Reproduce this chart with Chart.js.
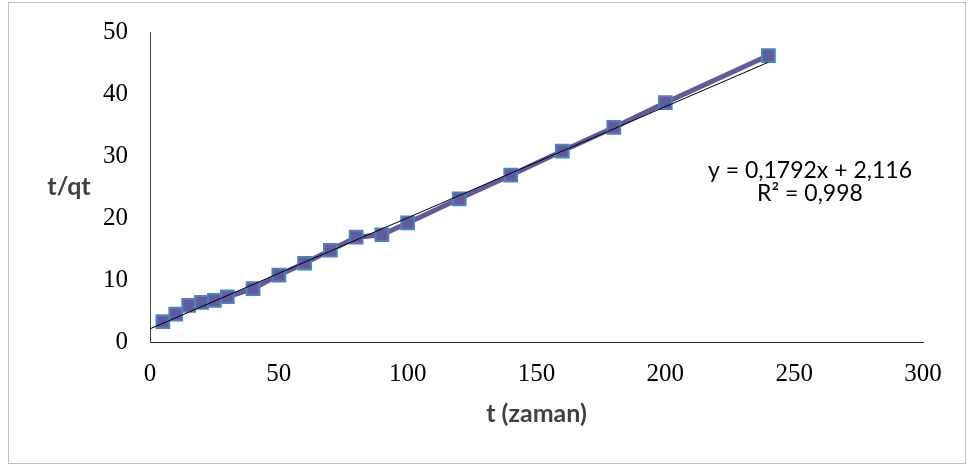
<!DOCTYPE html>
<html>
<head>
<meta charset="utf-8">
<title>t/qt - t (zaman)</title>
<script src="https://cdn.jsdelivr.net/npm/chart.js@4.4.1/dist/chart.umd.min.js"></script>
<style>
  html, body { margin: 0; padding: 0; background: #fff; }
  canvas { display: block; }
</style>
</head>
<body>
<canvas id="chart" width="968" height="466"></canvas>
<script>
const times = [5, 10, 15, 20, 25, 30, 40, 50, 60, 70, 80, 90, 100, 120, 140, 160, 180, 200, 240];
const tOverQt = [3.3, 4.5, 5.9, 6.4, 6.7, 7.3, 8.6, 10.8, 12.7, 14.8, 16.9, 17.3, 19.2, 23.1, 26.9, 30.8, 34.6, 38.6, 46.2];

// linear trendline ends (y = 0,1792x + 2,116)
const trendX = [0, 240];
const trendY = [2.116, 45.124];

// axis ticks
const xTicks = [0, 50, 100, 150, 200, 250, 300];
const yTicks = [0, 10, 20, 30, 40, 50];

// texts
const xTitle = 't (zaman)';
const yTitle = 't/qt';
const equation = ['y = 0,1792x + 2,116', 'R\u00B2 = 0,998'];

const toPoints = (xs, ys) => xs.map((x, i) => ({ x: x, y: ys[i] }));

// draws frame, axis titles and trendline label the way Excel places them
const excelText = {
  id: 'excelText',
  beforeDraw(chart) {
    const ctx = chart.ctx;
    ctx.save();
    ctx.strokeStyle = '#bfbfbf';
    ctx.lineWidth = 1;
    ctx.strokeRect(8.5, 2.5, chart.width - 11, chart.height - 5);
    ctx.restore();
  },
  afterDraw(chart) {
    const ctx = chart.ctx;
    const area = chart.chartArea;
    ctx.save();
    ctx.fillStyle = '#404040';
    ctx.textAlign = 'center';
    ctx.textBaseline = 'middle';
    ctx.font = 'bold 25px Lato';
    ctx.fillText(xTitle, (area.left + area.right) / 2, 414);
    ctx.fillText(yTitle, 69, (area.top + area.bottom) / 2);

    ctx.fillStyle = '#000';
    ctx.font = '23px Lato';
    ctx.fillText(equation[0], 810, 171);
    ctx.fillText(equation[1], 810, 194);
    ctx.restore();
  }
};

new Chart(document.getElementById('chart'), {
  type: 'scatter',
  data: {
    datasets: [{
      // trendline on top
      label: 'Linear',
      data: toPoints(trendX, trendY),
      showLine: true,
      borderColor: '#000',
      borderWidth: 1,
      pointRadius: 0
    }, {
      label: 't/qt',
      data: toPoints(times, tOverQt),
      showLine: true,
      borderColor: '#5f5b9e',
      borderWidth: 5,
      pointStyle: 'rect',
      pointRadius: 9,
      pointBackgroundColor: '#5f5b9e',
      pointBorderColor: '#4f81bd',
      pointBorderWidth: 2
    }]
  },
  options: {
    responsive: false,
    animation: false,
    layout: {
      padding: { top: 32, right: 45, left: 0, bottom: 0 }
    },
    plugins: {
      legend: { display: false },
      tooltip: { enabled: false }
    },
    scales: {
      x: {
        type: 'linear',
        min: 0,
        max: 300,
        grid: { display: false, drawTicks: false },
        border: { display: true, color: '#262626', width: 1 },
        afterBuildTicks: scale => { scale.ticks = xTicks.map(v => ({ value: v })); },
        afterFit: scale => {
          scale.height = 124;
          scale.paddingLeft = 0;
          scale.paddingRight = 0;
        },
        ticks: {
          padding: 17,
          color: '#000',
          font: { family: 'Liberation Serif', size: 25 }
        }
      },
      y: {
        type: 'linear',
        min: 0,
        max: 50,
        grid: { display: false, drawTicks: false },
        border: { display: true, color: '#404040', width: 1 },
        afterBuildTicks: scale => { scale.ticks = yTicks.map(v => ({ value: v })); },
        afterFit: scale => {
          // keep the plot box where the reference has it
          scale.width = 150;
          scale.paddingTop = 0;
          scale.paddingBottom = 0;
        },
        ticks: {
          padding: 22,
          color: '#000',
          font: { family: 'Liberation Serif', size: 25 }
        }
      }
    }
  },
  plugins: [excelText]
});
</script>
</body>
</html>
